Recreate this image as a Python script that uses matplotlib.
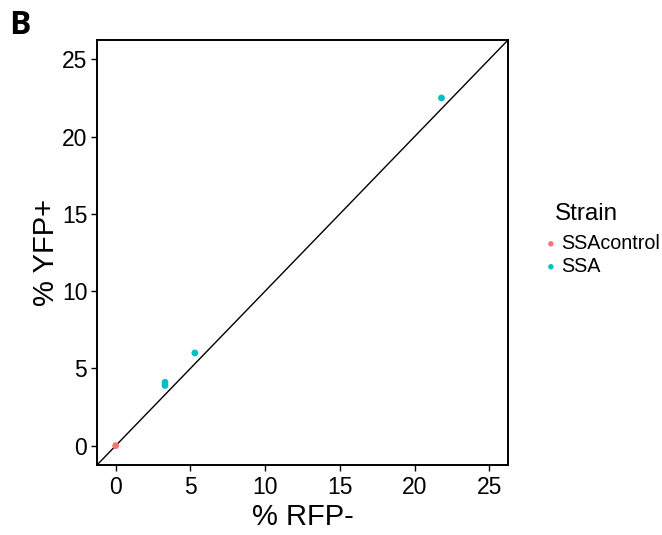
import numpy as np
import matplotlib.pyplot as plt

plt.rcParams['font.family'] = ['Liberation Sans', 'DejaVu Sans']

# data
strain = ["SSAcontrol", "SSA", "SSA", "SSA", "SSA"]
rfp_neg = [0.0, 3.3, 3.3, 5.3, 21.8]
yfp_pos = [0.0, 4.1, 3.9, 6.0, 22.5]
strain_levels = ["SSAcontrol", "SSA"]
strain_colors = {"SSAcontrol": "#F8766D", "SSA": "#00BFC4"}
ticks = [0, 5, 10, 15, 20, 25]

W, H = 662, 535
fig = plt.figure(figsize=(W / 100, H / 100), dpi=100)
ax = fig.add_axes([97 / W, 70 / H, 411 / W, 425 / H])

lo, hi = -1.25, 26.25
ax.plot([lo, hi], [lo, hi], color="black", lw=1.0, zorder=1)

rfp = np.array(rfp_neg)
yfp = np.array(yfp_pos)
st = np.array(strain)
for s in strain_levels:
    m = st == s
    ax.scatter(rfp[m], yfp[m], s=24, color=strain_colors[s], edgecolors="none",
               label=s, zorder=3)

ax.set_xlim(lo, hi)
ax.set_ylim(lo, hi)
ax.set_xticks(ticks)
ax.set_yticks(ticks)
ax.tick_params(labelsize=16.5, length=4, width=1, color="black")
ax.tick_params(axis="x", pad=4)
ax.tick_params(axis="y", pad=3)
for sp in ax.spines.values():
    sp.set_linewidth(1.4)
ax.set_xlabel("% RFP-", fontsize=21, labelpad=3)
ax.set_ylabel("% YFP+", fontsize=21, labelpad=1)

# legend: title as separate text, keys below it
fig.text(555 / W, 1 - 220 / H, "Strain", fontsize=17.5, va="baseline", ha="left")
ax.legend(loc="upper left", bbox_to_anchor=(543 / W, 1 - 234 / H),
          bbox_transform=fig.transFigure, frameon=False, fontsize=14.2,
          handletextpad=0.1, handlelength=0.8, borderpad=0, borderaxespad=0,
          labelspacing=0.2, markerscale=0.8)

fig.text(9 / W, 1 - 34 / H, "B", fontsize=23, fontweight="bold", va="baseline",
         ha="left", family=["Open Sans", "DejaVu Sans"])

fig.savefig("out.png", dpi=100)
